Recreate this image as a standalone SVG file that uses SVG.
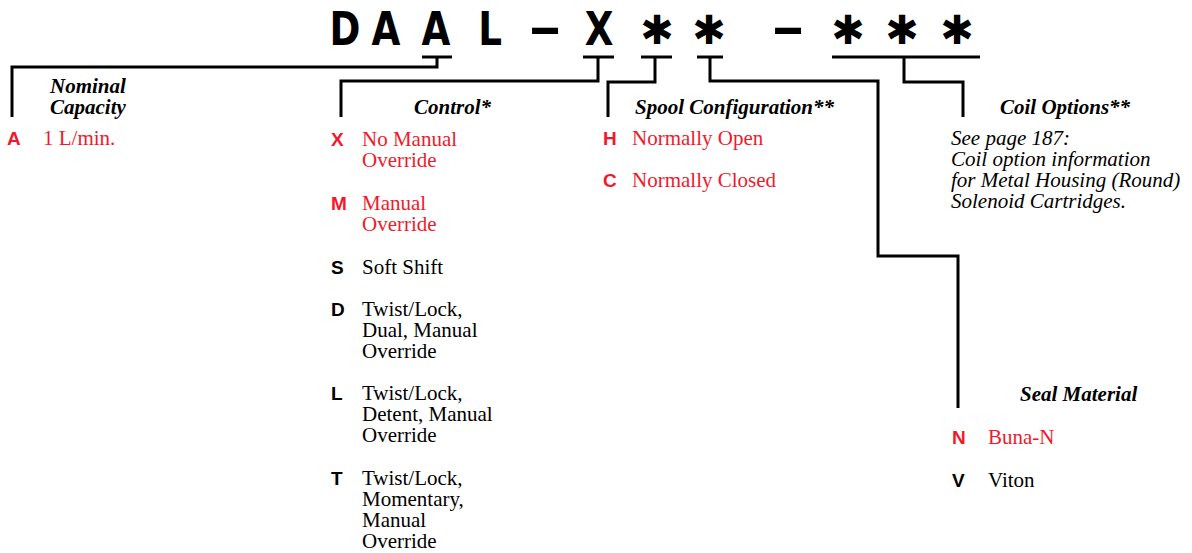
<svg xmlns="http://www.w3.org/2000/svg" width="1192" height="553" viewBox="0 0 1192 553">
<style>
.title{font-family:"DejaVu Sans Condensed","DejaVu Sans",sans-serif;font-stretch:condensed;font-weight:bold;font-size:46px;fill:#000;text-anchor:middle}
.ast{font-family:"DejaVu Sans",sans-serif;font-size:40px;fill:#000;text-anchor:middle}
.code{font-family:"Liberation Sans",Arial,sans-serif;font-weight:bold;font-size:19px}
.t{font-family:"Liberation Serif","Times New Roman",serif;font-size:21px}
.h{font-family:"Liberation Serif","Times New Roman",serif;font-size:21px;font-weight:bold;font-style:italic;fill:#000}
.ci{font-family:"Liberation Serif","Times New Roman",serif;font-size:21px;font-style:italic;fill:#000}
.red{fill:#f01a2c}
.blk{fill:#000}
.ln{fill:none;stroke:#000;stroke-width:3}
</style>
<rect width="1192" height="553" fill="#fff"/>
<g id="title">
<text class="title" transform="translate(345,45) scale(0.9,1)">D</text>
<text class="title" transform="translate(386,45) scale(0.9,1)">A</text>
<text class="title" transform="translate(436,45) scale(0.9,1)">A</text>
<text class="title" transform="translate(490,45) scale(0.9,1)">L</text>
<text class="title" transform="translate(545,45) scale(1.6,1.1)">–</text>
<text class="title" transform="translate(599,45) scale(0.9,1)">X</text>
<text class="ast" x="657" y="44">✱</text>
<text class="ast" x="709" y="44">✱</text>
<text class="title" transform="translate(788,45) scale(1.6,1.1)">–</text>
<text class="ast" x="848" y="44">✱</text>
<text class="ast" x="902" y="44">✱</text>
<text class="ast" x="957" y="44">✱</text>
</g>
<g id="connectors">
<line class="ln" x1="422" y1="57" x2="452" y2="57"/>
<line class="ln" x1="583" y1="57" x2="614" y2="57"/>
<line class="ln" x1="641" y1="57" x2="672" y2="57"/>
<line class="ln" x1="697" y1="57" x2="723" y2="57"/>
<line class="ln" x1="832" y1="57" x2="980" y2="57"/>
<polyline class="ln" points="437,57 437,67 12,67 12,117"/>
<polyline class="ln" points="598,57 598,81 341,81 341,117"/>
<polyline class="ln" points="655,57 655,82 608,82 608,117"/>
<polyline class="ln" points="710,57 710,81 878,81 878,256 958,256 958,408"/>
<polyline class="ln" points="904,57 904,82 963,82 963,117"/>
</g>
<g id="nominal-capacity">
<text class="h" x="50" y="93">Nominal</text>
<text class="h" x="50" y="114">Capacity</text>
<text class="code red" x="7" y="145">A</text>
<text class="t red" x="43" y="145">1 L/min.</text>
</g>
<g id="control">
<text class="h" x="414" y="114">Control*</text>
<text class="code red" x="331" y="146">X</text>
<text class="t red" x="362" y="146">No Manual</text>
<text class="t red" x="362" y="167">Override</text>
<text class="code red" x="331" y="210">M</text>
<text class="t red" x="362" y="210">Manual</text>
<text class="t red" x="362" y="231">Override</text>
<text class="code blk" x="331" y="274">S</text>
<text class="t blk" x="362" y="274">Soft Shift</text>
<text class="code blk" x="331" y="316">D</text>
<text class="t blk" x="362" y="316">Twist/Lock,</text>
<text class="t blk" x="362" y="337">Dual, Manual</text>
<text class="t blk" x="362" y="358">Override</text>
<text class="code blk" x="331" y="400">L</text>
<text class="t blk" x="362" y="400">Twist/Lock,</text>
<text class="t blk" x="362" y="421">Detent, Manual</text>
<text class="t blk" x="362" y="442">Override</text>
<text class="code blk" x="331" y="485">T</text>
<text class="t blk" x="362" y="485">Twist/Lock,</text>
<text class="t blk" x="362" y="506">Momentary,</text>
<text class="t blk" x="362" y="527">Manual</text>
<text class="t blk" x="362" y="548">Override</text>
</g>
<g id="spool-configuration">
<text class="h" x="635" y="114">Spool Configuration**</text>
<text class="code red" x="603" y="145">H</text>
<text class="t red" x="632" y="145">Normally Open</text>
<text class="code red" x="603" y="187">C</text>
<text class="t red" x="632" y="187">Normally Closed</text>
</g>
<g id="coil-options">
<text class="h" x="1000" y="114">Coil Options**</text>
<text class="ci" x="951" y="145">See page 187:</text>
<text class="ci" x="951" y="166">Coil option information</text>
<text class="ci" x="951" y="187">for Metal Housing (Round)</text>
<text class="ci" x="951" y="208">Solenoid Cartridges.</text>
</g>
<g id="seal-material">
<text class="h" x="1020" y="401">Seal Material</text>
<text class="code red" x="952" y="444">N</text>
<text class="t red" x="988" y="444">Buna-N</text>
<text class="code blk" x="952" y="487">V</text>
<text class="t blk" x="988" y="487">Viton</text>
</g>
</svg>
